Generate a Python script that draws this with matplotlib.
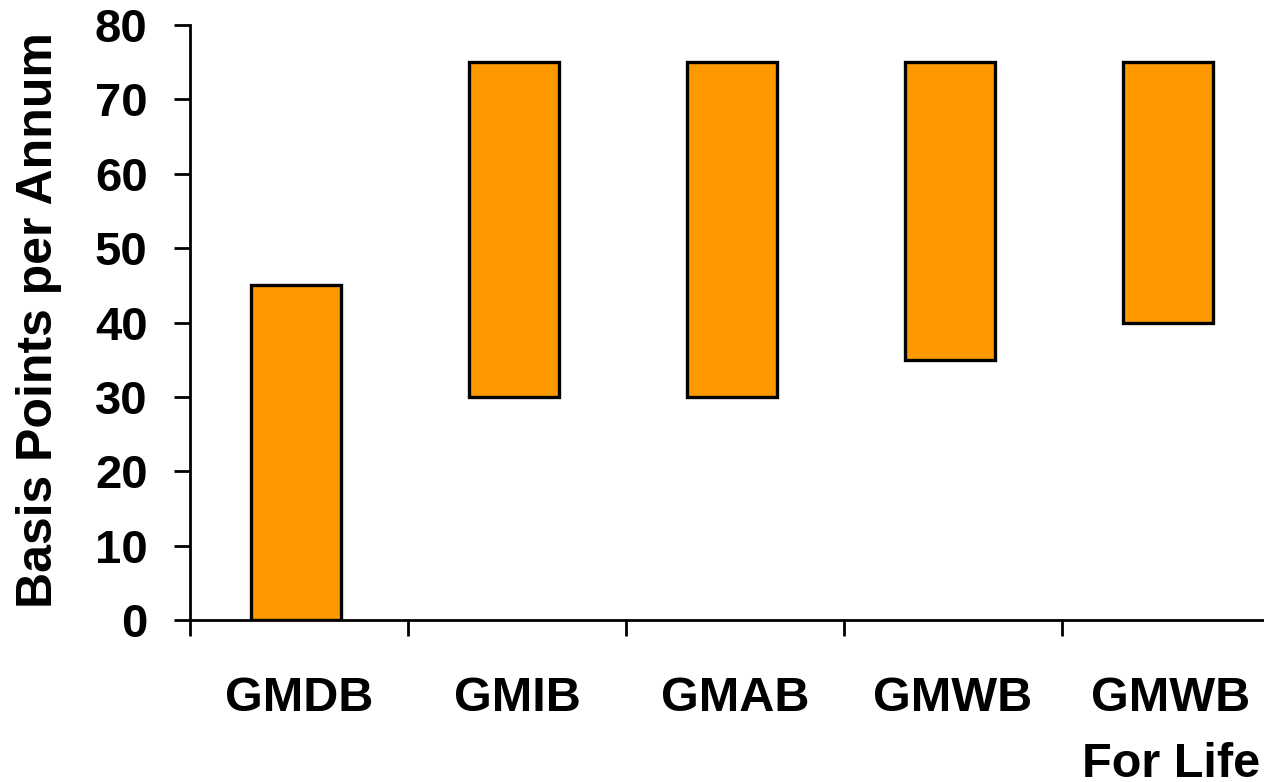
import numpy as np
import matplotlib
matplotlib.use('Agg')
import matplotlib.pyplot as plt

# guarantee product ranges, basis points per annum
products = ['GMDB', 'GMIB', 'GMAB', 'GMWB', 'GMWB\nFor Life']
low_bp   = [0, 30, 30, 35, 40]
high_bp  = [45, 75, 75, 75, 75]

plt.rcParams['font.family'] = ['Liberation Sans', 'DejaVu Sans']
plt.rcParams['font.weight'] = 'bold'

fig = plt.figure(figsize=(12.64, 7.82), dpi=100)
ax = fig.add_axes([190 / 1264, 162 / 782, 1090 / 1264, 595 / 782])

x = np.arange(len(products)) + 0.5
heights = np.array(high_bp) - np.array(low_bp)
# bars sit a touch left of the category centre
ax.bar(x - 0.012, heights, bottom=low_bp, width=0.413, color='#FF9900',
       edgecolor='black', linewidth=2.4, zorder=3)

ax.set_xlim(0, len(products))
ax.set_ylim(0, 80)
ax.set_yticks(np.arange(0, 81, 10))

# category boundaries get the tick marks, names sit in between
ax.set_xticks(np.arange(len(products) + 1))
ax.set_xticklabels([])
ax.set_xticks(x, minor=True)
ax.set_xticklabels(products, minor=True, fontsize=35, fontweight='bold',
                   linespacing=1.6)
ax.tick_params(axis='x', which='minor', length=0, pad=40)
ax.tick_params(axis='x', which='major', length=11.5, width=2, direction='out')
ax.tick_params(axis='y', length=11.5, width=2, direction='out', pad=19,
               labelsize=34)
for lbl in ax.get_yticklabels():
    lbl.set_fontweight('bold')

for side in ['top', 'right']:
    ax.spines[side].set_visible(False)
for side in ['left', 'bottom']:
    ax.spines[side].set_linewidth(2)
ax.spines['bottom'].set_clip_on(False)

ax.set_ylabel('Basis Points per Annum', fontsize=36, fontweight='bold')
ax.yaxis.set_label_coords(-0.117, 0.504)

fig.savefig('out.png', dpi=100)
